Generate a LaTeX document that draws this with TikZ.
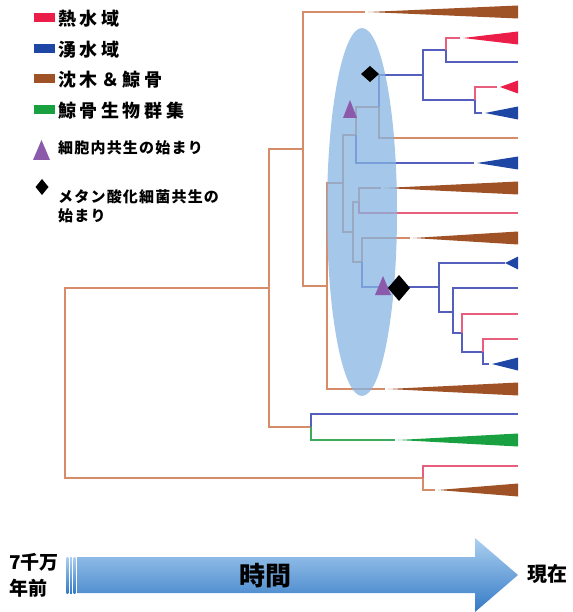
\documentclass[tikz,border=0pt]{standalone}
\usepackage{fontspec}
\newfontfamily\jp{Noto Sans CJK JP}
\definecolor{cor}{RGB}{214,140,105}
\definecolor{cbl}{RGB}{85,95,190}
\definecolor{crd}{RGB}{232,95,125}
\definecolor{cgr}{RGB}{60,170,90}
\definecolor{wbr}{RGB}{158,82,38}
\definecolor{wrd}{RGB}{234,30,72}
\definecolor{wbl}{RGB}{30,70,165}
\definecolor{wgr}{RGB}{25,160,65}
\definecolor{cpu}{RGB}{140,90,170}
\definecolor{cel}{RGB}{135,180,225}
\definecolor{ar1}{RGB}{172,208,240}
\definecolor{ar2}{RGB}{52,122,198}
\begin{document}
\begin{tikzpicture}[x=1pt,y=-1pt,
  ln/.style={line width=1.1pt},
  eo/.style={ln, draw=cor},
  eb/.style={ln, draw=cbl},
  er/.style={ln, draw=crd},
  eg/.style={ln, draw=cgr},
  gap/.style={shorten >=3pt},
  sw/.style={minimum width=21pt, minimum height=9pt, inner sep=0},
  lg/.style={font=\jp\bfseries\fontsize{18}{20}\selectfont\addfontfeatures{LetterSpace=20}, inner sep=0, anchor=west},
  lgs/.style={font=\jp\bfseries\fontsize{15}{19}\selectfont\addfontfeatures{LetterSpace=8}, inner sep=0, anchor=west, align=left}]
\clip (0,0) rectangle (572,612);

\node[sw, fill=wrd] (s1) at (44,18) {};
\node[sw, fill=wbl] (s2) at (44,49) {};
\node[sw, fill=wbr] (s3) at (44,79) {};
\node[sw, fill=wgr] (s4) at (44,110) {};
\node[lg] (t1) at (58,19) {熱水域};
\node[lg] (t2) at (58,50) {湧水域};
\node[lg] (t3) at (58,80) {沈木＆鯨骨};
\node[lg] (t4) at (58,111) {鯨骨生物群集};
\fill[cpu] (33,160) -- (41.5,140) -- (50,160) -- cycle;
\node[lgs] (t5) at (58,148) {細胞内共生の始まり};
\fill (42,179) -- (48.5,187) -- (42,195) -- (35.5,187) -- cycle;
\node[lgs] (t6) at (58,206) {メタン酸化細菌共生の\\始まり};

\coordinate (root) at (65,383);
\coordinate (A) at (269,288);
\coordinate (B) at (311,427);
\coordinate (M) at (423,478);
\coordinate (C) at (303,149);
\coordinate (D) at (327,286);
\coordinate (E) at (343,183);
\coordinate (H) at (356,135);
\coordinate (F) at (379,107);
\coordinate (G) at (423,75);
\coordinate (G1) at (446,50);
\coordinate (G2) at (475,100);
\coordinate (I) at (353,232);
\coordinate (J) at (359,202);
\coordinate (K) at (362,262);
\coordinate (L) at (439,287);
\coordinate (L1) at (453,312);
\coordinate (L2) at (462,333);
\coordinate (L3) at (483,352);

\foreach \n/\y in {l3/62, l6/138, l9/213, l12/288, l13/314, l14/339, l17/414, l19/466}
  \coordinate (\n) at (518,\y);
\foreach \n/\x/\y/\c in {w1/368/12/wbr, w2/463/38/wrd, w4/500/87/wrd, w5/485/113/wbl,
    w7/477/163/wbl, w8/384/188/wbr, w10/413/238/wbr, w11/505/263/wbl,
    w15/492/364/wbl, w16/388/389/wbr, w18/398/440/wgr, w20/438/490/wbr}{
  \coordinate (\n) at (\x,\y);
  \fill[\c] (\x,\y) -- (518,\y-6.5) -- (518,\y+6.5) -- cycle;
}

\draw[eo] (root) |- (A);
\draw[eo] (root) |- (M);
\draw[eo] (A) |- (C);
\draw[eo] (A) |- (B);
\draw[eb] (B) |- (l17);
\draw[eg, gap] (B) |- (w18);
\draw[er] (M) |- (l19);
\draw[eo, gap] (M) |- (w20);
\draw[eo, gap] (C) |- (w1);
\draw[eo] (C) |- (D);
\draw[eo] (D) |- (E);
\draw[eo, gap] (D) |- (w16);
\draw[eo] (E) |- (H);
\draw[eo] (E) |- (I);
\draw[eo] (H) |- (F);
\draw[eb, gap] (H) |- (w7);
\draw[eb] (F) |- (G);
\draw[eo] (F) |- (l6);
\draw[eb] (G) |- (G1);
\draw[eb] (G) |- (G2);
\draw[er, gap] (G1) |- (w2);
\draw[eb] (G1) |- (l3);
\draw[er, gap] (G2) |- (w4);
\draw[eb, gap] (G2) |- (w5);
\draw[eo] (I) |- (J);
\draw[eo] (I) |- (K);
\draw[eo, gap] (J) |- (w8);
\draw[er] (J) |- (l9);
\draw[eo, gap] (K) |- (w10);
\draw[eb] (K) |- (L);
\draw[eb] (L) |- (w11);
\draw[eb] (L) |- (L1);
\draw[eb] (L1) |- (l12);
\draw[eb] (L1) |- (L2);
\draw[er] (L2) |- (l13);
\draw[eb] (L2) |- (L3);
\draw[er] (L3) |- (l14);
\draw[eb, gap] (L3) |- (w15);

\fill[cel, opacity=0.75] (362,212) ellipse [x radius=35, y radius=184];

\fill[cpu] (343,118) -- (350,100) -- (357,118) -- cycle;
\fill (370,66) -- (379,74) -- (370,82) -- (361,74) -- cycle;
\fill[cpu] (375,295) -- (383,276) -- (391,295) -- cycle;
\fill (399,275) -- (410,288) -- (399,301) -- (388,288) -- cycle;

\foreach \x in {66.5,70,73.5}
  \shade[top color=ar1, bottom color=ar2] (\x,557) rectangle (\x+1.8,593);
\shade[top color=ar1, bottom color=ar2] (77,557) -- (475,557) -- (475,538) -- (518,575)
  -- (475,612) -- (475,593) -- (77,593) -- cycle;
\node[font=\jp\bfseries\fontsize{26}{28}\selectfont] (tm) at (265,576) {時間};
\node[font=\jp\bfseries\fontsize{19}{26}\selectfont, align=left, anchor=west, inner sep=0] (t0) at (9,575) {7千万\\年前};
\node[font=\jp\bfseries\fontsize{20}{22}\selectfont, anchor=west, inner sep=0] (tn) at (527,574) {現在};
\end{tikzpicture}
\end{document}
